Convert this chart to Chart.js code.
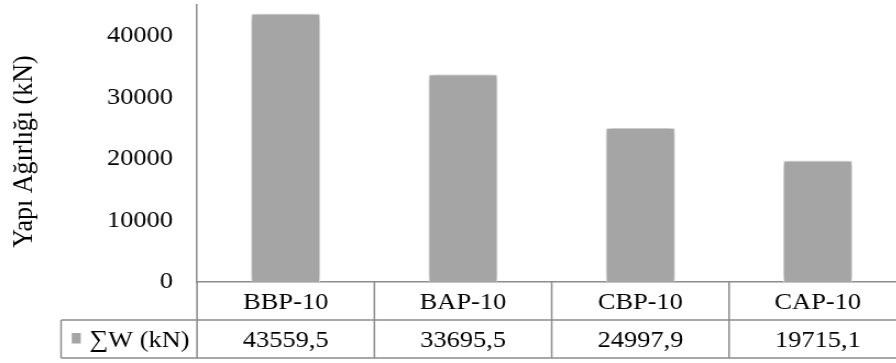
<!DOCTYPE html>
<html>
<head>
<meta charset="utf-8">
<script src="https://cdn.jsdelivr.net/npm/chart.js@4.4.1/dist/chart.umd.min.js"></script>
<style>
  html, body { margin: 0; padding: 0; background: #fff; overflow: hidden; width: 896px; height: 363px; }
  #wrap { position: absolute; left: 0; top: 0; width: 824px; height: 363px; transform: scaleX(1.1); transform-origin: 0 0; }
</style>
</head>
<body>
<div id="wrap"><canvas id="c"></canvas></div>
<script>
// Building weight per model
const categories = ['BBP-10', 'BAP-10', 'CBP-10', 'CAP-10'];
const seriesName = '∑W (kN)';
const weights = [43559.5, 33695.5, 24997.9, 19715.1];
const yTickValues = [0, 10000, 20000, 30000, 40000];
const yTitle = 'Yapı Ağırlığı (kN)';

const FONT = "'Liberation Serif', 'Times New Roman', serif";
const TEXT = '#000000';
const LINE = '#8c8c8c';
const BAR = '#a5a5a5';

const fmt = v => v.toFixed(1).replace('.', ',');

// Soft drop shadow around the bars
const barShadow = {
  id: 'barShadow',
  beforeDatasetsDraw(chart) {
    const ctx = chart.ctx;
    ctx.save();
    ctx.shadowColor = 'rgba(0,0,0,0.45)';
    ctx.shadowBlur = 7;
  },
  afterDatasetsDraw(chart) { chart.ctx.restore(); }
};

// Rotated axis title and the data table under the plot
const tableAndTitle = {
  id: 'tableAndTitle',
  afterDraw(chart) {
    const ctx = chart.ctx;
    const area = chart.chartArea;
    const xs = chart.scales.x;
    const n = categories.length;
    const colW = xs.width / n;
    const rowH = 38;
    const r1 = area.bottom, r2 = r1 + rowH, r3 = r2 + rowH;
    const tableLeft = 55.5;

    ctx.save();
    ctx.strokeStyle = LINE;
    ctx.lineWidth = 1.5;
    ctx.beginPath();
    // axis line continues through the table
    ctx.moveTo(area.left, area.bottom); ctx.lineTo(area.left, r3);
    // column dividers
    for (let i = 0; i < n; i++) {
      const x = xs.getPixelForValue(i) + colW / 2;
      ctx.moveTo(x, r1); ctx.lineTo(x, r3);
    }
    // row lines
    ctx.moveTo(tableLeft, r2); ctx.lineTo(area.right, r2);
    ctx.moveTo(tableLeft, r3); ctx.lineTo(area.right, r3);
    ctx.moveTo(tableLeft, r2); ctx.lineTo(tableLeft, r3);
    ctx.stroke();

    ctx.fillStyle = TEXT;
    ctx.font = '24px ' + FONT;
    ctx.textAlign = 'center';
    ctx.textBaseline = 'alphabetic';
    categories.forEach((c, i) => {
      const x = xs.getPixelForValue(i);
      ctx.fillText(c, x, r1 + 26.5);
      ctx.fillText(fmt(weights[i]), x, r2 + 27);
    });

    // legend key in the first cell of the value row
    ctx.fillStyle = BAR;
    ctx.fillRect(65.2, r2 + 13, 8.2, 10.5);
    ctx.fillStyle = TEXT;
    ctx.textAlign = 'left';
    ctx.fillText(seriesName, 81.2, r2 + 27);

    // y axis title
    ctx.font = '26px ' + FONT;
    ctx.translate(29, 151.5);
    ctx.rotate(-Math.PI / 2);
    ctx.textAlign = 'center';
    ctx.textBaseline = 'alphabetic';
    ctx.fillText(yTitle, 0, 0);
    ctx.restore();
  }
};

new Chart(document.getElementById('c'), {
  type: 'bar',
  data: {
    labels: categories,
    datasets: [{
      label: seriesName,
      data: weights,
      backgroundColor: BAR,
      borderColor: 'rgba(255,255,255,0.9)',
      borderWidth: 1,
      barPercentage: 0.389,
      categoryPercentage: 1
    }]
  },
  options: {
    responsive: true,
    maintainAspectRatio: false,
    animation: false,
    layout: { padding: { top: 5, left: 0, right: 0, bottom: 0 } },
    plugins: { legend: { display: false }, tooltip: { enabled: false } },
    scales: {
      x: {
        grid: { display: false },
        border: { display: true, color: LINE, width: 1.5 },
        ticks: { display: false },
        afterFit(scale) { scale.height = 81; scale.paddingLeft = 0; scale.paddingRight = 0; }
      },
      y: {
        min: 0,
        max: 45000,
        grid: { display: false, drawTicks: false },
        border: { display: true, color: LINE, width: 1.5 },
        ticks: {
          padding: 21.8,
          color: TEXT,
          font: { family: FONT, size: 24 },
          callback: v => String(v)
        },
        afterBuildTicks(scale) { scale.ticks = yTickValues.map(v => ({ value: v })); },
        afterFit(scale) { scale.width = 179.1; scale.paddingTop = 0; scale.paddingBottom = 0; }
      }
    }
  },
  plugins: [barShadow, tableAndTitle]
});
</script>
</body>
</html>
